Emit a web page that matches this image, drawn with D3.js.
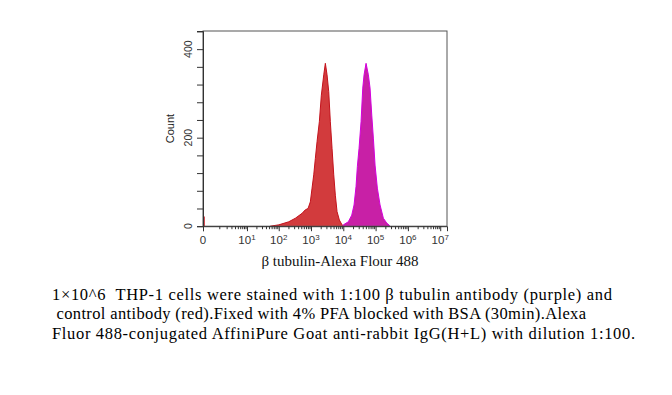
<!DOCTYPE html>
<html><head><meta charset="utf-8">
<script src="https://cdn.jsdelivr.net/npm/d3@7"></script>
<style>body{margin:0;background:#fff}svg{display:block}</style>
</head><body>
<svg id="c" width="672" height="395"></svg>
<script>
// ---- data ----
const controlIntensity = [54, 100, 205, 328, 528, 668, 811, 955, 1079, 1217, 1365, 1540, 1815, 2093, 2485, 2782, 3140, 3541, 3971, 4484, 5061, 5673, 6402, 7547, 9146, 10200];
const controlCount     = [0, 3, 10, 18, 29, 37, 40, 55, 86, 116, 153, 191, 236, 296, 342, 368, 342, 304, 236, 176, 116, 70, 33, 14, 3, 0];
const tubulinIntensity = [9800, 10030, 14320, 18270, 21530, 24830, 27250, 30750, 35460, 40020, 43940, 50600, 59680, 67300, 76000, 85200, 96100, 113200, 137300, 173800, 221400, 266500, 280000];
const tubulinCount     = [0, 3, 10, 25, 48, 90, 135, 176, 236, 312, 342, 368, 342, 312, 251, 199, 138, 86, 48, 18, 7, 2, 0];
const zeroBinCount = 22;
const yTickValues = [0, 40, 80, 120, 160, 200, 240, 280, 320, 360, 400, 440];
const yTickLabels = {0: "0", 200: "200", 400: "400"};
const xMajorExponents = [1, 2, 3, 4, 5, 6, 7];
const xMinorSmall = [1, 2, 3, 4, 5, 6, 7, 8, 9];
const xMinorMult = [2, 3, 4, 5, 6, 7, 8, 9];
const xTitle = "β tubulin-Alexa Flour 488";
const yTitle = "Count";
const captionLines = [
  "1×10^6  THP-1 cells were stained with 1:100 β tubulin antibody (purple) and",
  " control antibody (red).Fixed with 4% PFA blocked with BSA (30min).Alexa",
  "Fluor 488-conjugated AffiniPure Goat anti-rabbit IgG(H+L) with dilution 1:100."
];
const captionWidths = [560, 534, 583];

// ---- drawing ----
const svg = d3.select("#c");
const L = 203, R = 447, T = 31, B = 226.2;
const x = d3.scaleSymlog().constant(0.455).domain([0, 1.62e7]).range([L, R]);
const y = d3.scaleLinear().domain([0, 441]).range([B, T]);

const area = d3.area().x(d => x(d[0])).y0(y(0)).y1(d => y(d[1])).curve(d3.curveLinear);
const line = d3.line().x(d => x(d[0])).y(d => y(d[1])).curve(d3.curveLinear);

const ctrl = d3.zip(controlIntensity, controlCount);
const tub = d3.zip(tubulinIntensity, tubulinCount);

svg.append("path").attr("d", area(ctrl)).attr("fill", "#d23b3d");
svg.append("path").attr("d", line(ctrl)).attr("fill", "none").attr("stroke", "#c4121c").attr("stroke-width", 1);
svg.append("path").attr("d", area(tub)).attr("fill", "#c820a6");
svg.append("path").attr("d", line(tub)).attr("fill", "none").attr("stroke", "#d400dc").attr("stroke-width", 1);

// zero bin spike
svg.append("line").attr("x1", x(0) + 1).attr("x2", x(0) + 1).attr("y1", y(0)).attr("y2", y(zeroBinCount))
  .attr("stroke", "#c4121c").attr("stroke-width", 1.5);

// frame
svg.append("rect").attr("x", L).attr("y", T).attr("width", R - L).attr("height", B - T)
  .attr("fill", "none").attr("stroke", "#555").attr("stroke-width", 1);

// y axis
const yAxis = d3.axisLeft(y).tickValues(yTickValues).tickSize(6).tickFormat(d => "");
const gy = svg.append("g").attr("transform", `translate(${L},0)`).call(yAxis);
gy.select(".domain").attr("stroke", "#333");
gy.selectAll(".tick line").attr("stroke", "#333");
Object.keys(yTickLabels).forEach(k => {
  svg.append("text").attr("transform", `translate(${L - 11},${y(+k)}) rotate(-90)`)
    .attr("text-anchor", "middle").attr("font-family", "Liberation Sans, Arial, sans-serif")
    .attr("font-size", 10.5).attr("fill", "#333").text(yTickLabels[k]);
});
svg.append("text").attr("transform", `translate(174,${(T + B) / 2}) rotate(-90)`)
  .attr("text-anchor", "middle").attr("font-family", "Liberation Sans, Arial, sans-serif")
  .attr("font-size", 11).attr("fill", "#222").text(yTitle);

// x axis
const minorVals = xMinorSmall.slice();
xMajorExponents.slice(0, -1).forEach(e => xMinorMult.forEach(m => minorVals.push(m * Math.pow(10, e))));
const majorVals = [0].concat(xMajorExponents.map(e => Math.pow(10, e)));
const gxMinor = svg.append("g").attr("transform", `translate(0,${B})`)
  .call(d3.axisBottom(x).tickValues(minorVals).tickSize(3).tickFormat(""));
gxMinor.select(".domain").remove();
gxMinor.selectAll(".tick line").attr("stroke", "#333");
const gx = svg.append("g").attr("transform", `translate(0,${B})`)
  .call(d3.axisBottom(x).tickValues(majorVals).tickSize(5).tickFormat(""));
gx.select(".domain").attr("stroke", "#333");
gx.selectAll(".tick line").attr("stroke", "#333");

majorVals.forEach((v, i) => {
  const t = svg.append("text").attr("x", x(v)).attr("y", 244).attr("text-anchor", "middle")
    .attr("font-family", "Liberation Sans, Arial, sans-serif").attr("font-size", 11.5).attr("fill", "#333");
  if (v === 0) { t.text("0"); }
  else {
    t.append("tspan").text("10");
    t.append("tspan").attr("dy", -4.5).attr("font-size", 8).text(xMajorExponents[i - 1]);
  }
});

svg.append("text").attr("x", 340).attr("y", 266).attr("text-anchor", "middle")
  .attr("font-family", "Liberation Serif, Times New Roman, serif").attr("font-size", 15)
  .attr("fill", "#111").text(xTitle);

captionLines.forEach((s, i) => {
  svg.append("text").attr("x", 52).attr("y", 299.5 + i * 19.5)
    .attr("xml:space", "preserve").style("white-space", "pre")
    .attr("font-family", "Liberation Serif, Times New Roman, serif").attr("font-size", 16.5)
    .attr("textLength", captionWidths[i]).attr("lengthAdjust", "spacing")
    .attr("fill", "#000").text(s);
});
</script>
</body></html>
